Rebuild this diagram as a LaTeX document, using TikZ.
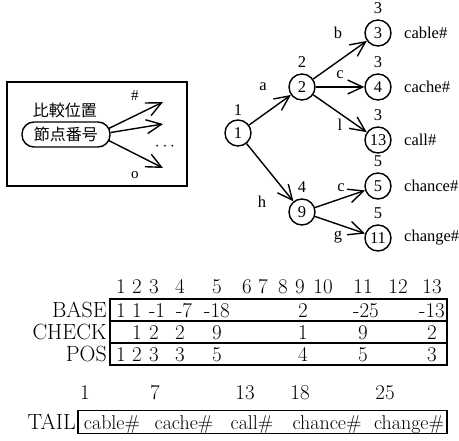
\documentclass[tikz,border=0pt]{standalone}
\usepackage{fontspec}
\usetikzlibrary{arrows.meta}
\newfontfamily\jpfont{Noto Sans CJK JP}
\newfontfamily\tmfont{Liberation Serif}
\begin{document}
\begin{tikzpicture}[x=1pt,y=-1pt,
  st/.style={circle,draw,line width=1.4pt,minimum size=26pt,inner sep=0pt,font=\tmfont\fontsize{16.5}{16.5}\selectfont},
  tm/.style={inner sep=0pt,font=\tmfont\fontsize{16.5}{16.5}\selectfont},
  arr/.style={line width=1.4pt,-{Straight Barb[length=15pt,width=14pt,line width=1.4pt]}},
  lm/.style={inner sep=0pt,anchor=base,font=\fontsize{21}{21}\selectfont},
  lmr/.style={inner sep=0pt,anchor=base east,font=\fontsize{22}{22}\selectfont},
  row/.style={draw,line width=1.1pt,minimum width=337pt,minimum height=22pt,inner sep=0pt},
  jp/.style={inner sep=0pt,font=\jpfont\fontsize{16}{16}\selectfont}]
\useasboundingbox (0,0) rectangle (459,441);
% left legend box
\node[draw,line width=2.6pt,minimum width=180pt,minimum height=104pt,inner sep=0pt] (frame) at (97,134) {};
\node[jp] (cmp) at (65,110) {比較位置};
\node[draw,line width=1.4pt,rounded corners=12pt,minimum width=88pt,minimum height=25pt,inner sep=0pt,jp] (pill) at (66,134.5) {節点番号};
\coordinate (t1) at (163,102);
\coordinate (t2) at (163,124);
\coordinate (t3) at (163,168);
\draw[arr] ([shift={(-2,-6)}]pill.east) -- (t1);
\draw[arr] ([shift={(0,-2)}]pill.east) -- (t2);
\draw[arr] ([shift={(-2,6)}]pill.east) -- (t3);
\node[tm,font=\tmfont\fontsize{15}{15}\selectfont] (hash) at (135,96) {\#};
\node[tm,font=\tmfont\fontsize{15}{15}\selectfont] (oo) at (135,175) {o};
\node[tm] (dots) at (165,147) {$\cdots$};
% tree
\node[st] (n1) at (238,133) {1};
\node[st] (n2) at (302,87) {2};
\node[st] (n3) at (378,33) {3};
\node[st] (n4) at (378,87) {4};
\node[st] (n13) at (378,140) {13};
\node[st] (n9) at (302,212) {9};
\node[st] (n5) at (378,186) {5};
\node[st] (n11) at (378,238) {11};
\draw[arr] (n1) -- (n2);
\draw[arr] (n2) -- (n3);
\draw[arr] (n2) -- (n4);
\draw[arr] (n2) -- (n13);
\draw[arr] (n1) -- (n9);
\draw[arr] (n9) -- (n5);
\draw[arr] (n9) -- (n11);
\node[tm] (l1) at (238,110) {1};
\node[tm] (l2) at (302,62) {2};
\node[tm] (l3) at (378,8) {3};
\node[tm] (l4) at (378,62) {3};
\node[tm] (l13) at (378,115) {3};
\node[tm] (l9) at (302,187) {4};
\node[tm] (l5) at (378,161) {5};
\node[tm] (l11) at (378,213) {5};
\node[tm] (ea) at (263,87) {a};
\node[tm] (eb) at (338,33) {b};
\node[tm] (ec) at (340,75) {c};
\node[tm] (el) at (340,125) {l};
\node[tm] (eh) at (262,202) {h};
\node[tm] (ec2) at (341,188) {c};
\node[tm] (eg) at (338,237) {g};
\node[tm,anchor=west] (w3) at (404,33) {cable\#};
\node[tm,anchor=west] (w4) at (404,87) {cache\#};
\node[tm,anchor=west] (w13) at (404,140) {call\#};
\node[tm,anchor=west] (w5) at (404,186) {chance\#};
\node[tm,anchor=west] (w11) at (404,238) {change\#};
% double-array table
\node[row] (rbase) at (278.5,310) {};
\node[row] (rcheck) at (278.5,332) {};
\node[row] (rpos) at (278.5,354) {};
\node[lmr] (lbase) at (107,317.5) {BASE};
\node[lmr] (lcheck) at (107,339.5) {CHECK};
\node[lmr] (lpos) at (107,361.5) {POS};
\foreach \x/\t [count=\i] in {121/1,137/2,154/3,180/4,217/5,247/6,263/7,283/8,300/9,323/10,363/11,398/12,432/13}
  \node[lm] (h\i) at (\x,294) {\t};
\foreach \x/\t [count=\i] in {121/1,137/1,157/-1,184/-7,217/-18,303/2,366/-25,432/-13}
  \node[lm] (b\i) at (\x,317.5) {\t};
\foreach \x/\t [count=\i] in {137/1,154/2,180/2,217/9,303/1,363/9,432/2}
  \node[lm] (c\i) at (\x,339.5) {\t};
\foreach \x/\t [count=\i] in {121/1,137/2,154/3,180/3,217/5,303/4,363/5,432/3}
  \node[lm] (p\i) at (\x,361.5) {\t};
% tail
\node[draw,line width=1.1pt,minimum width=369pt,minimum height=23pt,inner sep=0pt] (tail) at (262.5,422) {};
\node[lmr] (ltail) at (76,429.5) {TAIL};
\foreach \x/\t [count=\i] in {85/1,155/7,245/13,300/18,385/25}
  \node[lm] (th\i) at (\x,400) {\t};
\foreach \x/\t [count=\i] in {112/cable\#,184/cache\#,252/call\#,327/chance\#,409/change\#}
  \node[lm,font=\fontsize{20}{20}\selectfont] (tw\i) at (\x,429.5) {\t};
\end{tikzpicture}
\end{document}
